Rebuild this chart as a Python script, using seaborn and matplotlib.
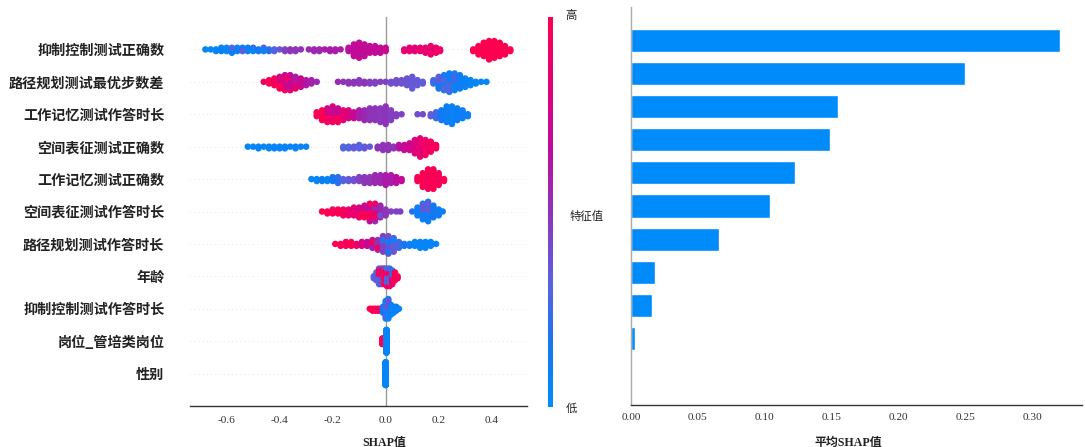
import numpy as np
import pandas as pd
import matplotlib
matplotlib.use("Agg")
import matplotlib.pyplot as plt
import seaborn as sns
from matplotlib.colors import LinearSegmentedColormap, Normalize
from matplotlib.cm import ScalarMappable

# ---------------- data ----------------
features = ["抑制控制测试正确数", "路径规划测试最优步数差", "工作记忆测试作答时长",
            "空间表征测试正确数", "工作记忆测试正确数", "空间表征测试作答时长",
            "路径规划测试作答时长", "年龄", "抑制控制测试作答时长",
            "岗位_管培类岗位", "性别"]

mean_abs_shap = [0.321, 0.250, 0.155, 0.149, 0.123, 0.104, 0.066, 0.018, 0.016, 0.003, 0.0]

x_ticks_left = [-0.6, -0.4, -0.2, 0.0, 0.2, 0.4]
x_ticks_right = [0.00, 0.05, 0.10, 0.15, 0.20, 0.25, 0.30]

# beeswarm points: (SHAP value, number of points, feature level 0=low..1=high)
swarm_ikz_correct = [
    (-0.68, 1, 0.05), (-0.66, 1, 0.05), (-0.64, 2, 0.05), (-0.62, 3, 0.08), (-0.60, 3, 0.05),
    (-0.58, 3, 0.10), (-0.58, 1, 0.30), (-0.56, 3, 0.08), (-0.54, 2, 0.12), (-0.54, 1, 0.35),
    (-0.52, 3, 0.10), (-0.50, 2, 0.20), (-0.50, 1, 0.05), (-0.48, 2, 0.15), (-0.46, 2, 0.25),
    (-0.46, 1, 0.05), (-0.44, 2, 0.20), (-0.42, 2, 0.30), (-0.40, 1, 0.35),
    (-0.38, 2, 0.45), (-0.36, 2, 0.50), (-0.34, 2, 0.50), (-0.32, 1, 0.50),
    (-0.29, 1, 0.55), (-0.27, 2, 0.55), (-0.25, 2, 0.55), (-0.23, 1, 0.60), (-0.21, 2, 0.60),
    (-0.19, 2, 0.60), (-0.17, 1, 0.60),
    (-0.14, 3, 0.65), (-0.12, 8, 0.68), (-0.10, 10, 0.70), (-0.08, 8, 0.68), (-0.06, 5, 0.70),
    (-0.04, 5, 0.68), (-0.02, 4, 0.70), (0.00, 3, 0.72),
    (0.07, 2, 0.85), (0.09, 3, 0.85), (0.11, 3, 0.82), (0.13, 3, 0.88), (0.15, 4, 0.85),
    (0.17, 6, 0.88), (0.19, 4, 0.90), (0.205, 2, 0.90),
    (0.33, 2, 1.0), (0.35, 6, 1.0), (0.37, 9, 1.0), (0.39, 12, 1.0), (0.41, 11, 1.0),
    (0.43, 9, 1.0), (0.45, 6, 1.0), (0.47, 2, 1.0),
]
swarm_path_steps = [
    (-0.46, 1, 0.90), (-0.44, 3, 1.0), (-0.42, 5, 0.95), (-0.40, 6, 1.0), (-0.40, 2, 0.75),
    (-0.38, 7, 0.95), (-0.38, 3, 0.75), (-0.36, 7, 0.90), (-0.36, 3, 0.70), (-0.34, 6, 0.85),
    (-0.34, 2, 0.60), (-0.32, 6, 0.72), (-0.30, 4, 0.62), (-0.28, 3, 0.58), (-0.26, 1, 0.55),
    (-0.18, 1, 0.55), (-0.16, 1, 0.50), (-0.14, 2, 0.50), (-0.12, 2, 0.50), (-0.10, 3, 0.48),
    (-0.08, 2, 0.50), (-0.06, 2, 0.45), (-0.04, 2, 0.45), (-0.02, 1, 0.45), (0.00, 1, 0.45),
    (0.02, 2, 0.40), (0.04, 3, 0.40), (0.06, 3, 0.38), (0.08, 5, 0.38), (0.10, 8, 0.35),
    (0.12, 4, 0.35), (0.14, 2, 0.35),
    (0.18, 3, 0.25), (0.20, 6, 0.15), (0.20, 2, 0.35), (0.22, 8, 0.10), (0.22, 2, 0.30),
    (0.24, 10, 0.10), (0.24, 2, 0.30), (0.26, 9, 0.08), (0.26, 2, 0.25), (0.28, 9, 0.10),
    (0.30, 6, 0.08), (0.32, 4, 0.05), (0.34, 2, 0.05), (0.36, 1, 0.05), (0.38, 1, 0.05),
]
swarm_wm_time = [
    (-0.26, 3, 0.95), (-0.24, 6, 1.0), (-0.22, 6, 0.95), (-0.22, 2, 0.75), (-0.20, 7, 0.90),
    (-0.20, 2, 0.70), (-0.18, 6, 0.95), (-0.18, 2, 0.70), (-0.16, 6, 0.85), (-0.14, 5, 0.80),
    (-0.12, 4, 0.70), (-0.10, 5, 0.60), (-0.08, 6, 0.55), (-0.06, 7, 0.50), (-0.04, 7, 0.50),
    (-0.02, 8, 0.48), (0.00, 10, 0.50), (0.02, 6, 0.45), (0.04, 2, 0.45), (0.06, 1, 0.45),
    (0.12, 1, 0.40), (0.14, 1, 0.40),
    (0.17, 2, 0.35), (0.19, 4, 0.25), (0.21, 6, 0.15), (0.23, 9, 0.10), (0.25, 10, 0.08),
    (0.27, 7, 0.10), (0.29, 5, 0.10), (0.31, 2, 0.10),
]
swarm_spatial_correct = [
    (-0.52, 1, 0.05), (-0.50, 1, 0.05), (-0.48, 2, 0.05), (-0.46, 1, 0.05), (-0.44, 2, 0.05),
    (-0.42, 2, 0.05), (-0.40, 2, 0.05), (-0.38, 2, 0.05), (-0.36, 1, 0.05), (-0.34, 2, 0.05),
    (-0.32, 1, 0.05), (-0.30, 1, 0.05),
    (-0.16, 2, 0.30), (-0.14, 2, 0.30), (-0.12, 2, 0.35), (-0.10, 3, 0.30), (-0.08, 2, 0.35),
    (-0.06, 1, 0.35),
    (-0.03, 2, 0.50), (-0.01, 4, 0.50), (0.01, 4, 0.50), (0.03, 2, 0.50),
    (0.05, 3, 0.65), (0.07, 4, 0.70), (0.09, 5, 0.75), (0.11, 9, 0.80), (0.13, 12, 0.85),
    (0.15, 10, 0.92), (0.17, 7, 0.95), (0.19, 3, 0.95),
]
swarm_wm_correct = [
    (-0.28, 1, 0.05), (-0.26, 2, 0.05), (-0.24, 2, 0.10), (-0.22, 2, 0.05), (-0.20, 3, 0.15),
    (-0.18, 4, 0.20), (-0.16, 2, 0.30), (-0.14, 2, 0.35), (-0.12, 2, 0.40), (-0.10, 3, 0.45),
    (-0.08, 4, 0.50), (-0.06, 4, 0.50), (-0.04, 5, 0.55), (-0.02, 5, 0.55), (0.00, 6, 0.60),
    (0.02, 5, 0.60), (0.04, 4, 0.65), (0.06, 2, 0.70),
    (0.12, 3, 0.95), (0.14, 8, 1.0), (0.16, 11, 0.95), (0.18, 11, 1.0), (0.20, 7, 0.95),
    (0.22, 2, 1.0),
]
swarm_spatial_time = [
    (-0.24, 1, 1.0), (-0.22, 2, 1.0), (-0.20, 3, 0.95), (-0.18, 3, 1.0), (-0.16, 4, 0.95),
    (-0.14, 4, 0.90), (-0.12, 5, 0.85), (-0.10, 5, 0.80), (-0.10, 1, 1.0), (-0.08, 5, 0.70),
    (-0.08, 2, 1.0), (-0.06, 7, 0.65), (-0.06, 3, 0.95), (-0.04, 7, 0.55), (-0.04, 3, 0.90),
    (-0.02, 6, 0.55), (-0.02, 1, 0.40), (0.00, 4, 0.50), (0.02, 1, 0.45), (0.04, 1, 0.45),
    (0.055, 1, 0.45),
    (0.10, 1, 0.20), (0.12, 5, 0.10), (0.14, 7, 0.10), (0.14, 2, 0.35), (0.16, 9, 0.10),
    (0.16, 2, 0.35), (0.18, 7, 0.15), (0.20, 4, 0.10), (0.215, 1, 0.10),
]
swarm_path_time = [
    (-0.19, 1, 1.0), (-0.17, 2, 1.0), (-0.15, 3, 0.95), (-0.13, 3, 1.0), (-0.11, 2, 0.90),
    (-0.09, 3, 0.80), (-0.07, 3, 0.70), (-0.05, 4, 0.60), (-0.05, 1, 0.95), (-0.03, 5, 0.50),
    (-0.03, 1, 0.90), (-0.01, 8, 0.45), (-0.01, 1, 0.20), (0.01, 8, 0.40), (0.01, 2, 0.15),
    (0.03, 7, 0.35), (0.03, 1, 0.10), (0.05, 4, 0.25), (0.07, 2, 0.15), (0.09, 2, 0.10),
    (0.11, 3, 0.05), (0.13, 4, 0.05), (0.15, 4, 0.05), (0.17, 3, 0.05), (0.19, 1, 0.05),
]
swarm_age = [
    (-0.045, 2, 0.30), (-0.035, 5, 0.35), (-0.025, 7, 0.30), (-0.025, 2, 0.95), (-0.015, 7, 0.40),
    (-0.015, 2, 1.0), (-0.005, 6, 0.45), (-0.005, 3, 1.0), (0.005, 7, 0.90), (0.005, 3, 0.30),
    (0.015, 7, 0.95), (0.015, 3, 0.25), (0.025, 6, 0.90), (0.025, 2, 0.20), (0.035, 5, 1.0),
    (0.045, 2, 0.95),
]
swarm_ikz_time = [
    (-0.06, 1, 1.0), (-0.05, 2, 1.0), (-0.04, 2, 1.0), (-0.03, 2, 0.95), (-0.02, 2, 0.90),
    (-0.01, 4, 0.15), (0.00, 8, 0.10), (0.00, 2, 0.35), (0.01, 9, 0.05), (0.01, 2, 0.40),
    (0.02, 6, 0.10), (0.03, 4, 0.05), (0.04, 3, 0.10), (0.05, 1, 0.05),
]
swarm_post = [(-0.012, 30, 1.0), (0.003, 120, 0.05)]
swarm_gender = [(0.0, 150, 0.05)]

swarm_rows = [swarm_ikz_correct, swarm_path_steps, swarm_wm_time, swarm_spatial_correct,
              swarm_wm_correct, swarm_spatial_time, swarm_path_time, swarm_age,
              swarm_ikz_time, swarm_post, swarm_gender]

# ---------------- style ----------------
sns.set_style("white")
plt.rcParams["font.family"] = ["Liberation Serif", "Noto Sans CJK SC"]
plt.rcParams["axes.unicode_minus"] = False

shap_red_blue = LinearSegmentedColormap.from_list(
    "shap_red_blue",
    [(0.00, (0.00, 0.545, 0.984)),
     (0.15, (0.08, 0.47, 0.95)),
     (0.32, (0.36, 0.38, 0.87)),
     (0.50, (0.56, 0.20, 0.72)),
     (0.66, (0.73, 0.05, 0.62)),
     (0.82, (0.88, 0.00, 0.48)),
     (1.00, (1.00, 0.00, 0.318))])


def beeswarm_offsets(values, fracs, row_height=0.4, nbins=100):
    values = np.asarray(values, float)
    fracs = np.asarray(fracs, float)
    lo, hi = values.min(), values.max()
    quant = np.round(nbins * (values - lo) / (hi - lo + 1e-8))
    order = np.lexsort((fracs, quant))
    ys = np.zeros(len(values))
    layer, last = 0, None
    for ind in order:
        if quant[ind] != last:
            layer = 0
        ys[ind] = np.ceil(layer / 2) * ((layer % 2) * 2 - 1)
        layer += 1
        last = quant[ind]
    ys *= 0.9 * (row_height / np.max(ys + 1))
    return ys


records = []
for i, entries in enumerate(swarm_rows):
    vals, lv, fr = [], [], []
    for v, n, c in entries:
        for j in range(n):
            vals.append(v)
            lv.append(c)
            fr.append((j + 0.5) / n)
    offs = beeswarm_offsets(vals, fr)
    for v, c, o in zip(vals, lv, offs):
        records.append({"shap": v, "row": i + o, "level": c})
df_swarm = pd.DataFrame(records)

df_bar = pd.DataFrame({"feature": features, "value": mean_abs_shap})

# ---------------- figure ----------------
W, H = 1085, 447
fig = plt.figure(figsize=(W / 100, H / 100), dpi=100)


def frac_box(x0, y0, x1, y1):
    return [x0 / W, 1 - y1 / H, (x1 - x0) / W, (y1 - y0) / H]


ax1 = fig.add_axes(frac_box(190, 17, 527, 406))
cax = fig.add_axes(frac_box(548.3, 17.3, 552.7, 406.7))
ax2 = fig.add_axes(frac_box(631, 7, 1082, 405))

# ---- left: beeswarm ----
nrow = len(features)
for i in range(nrow):
    ax1.axhline(i, color="#cccccc", lw=0.5, dashes=(1, 5), zorder=-1)
ax1.axvline(0, color="#999999", lw=1, zorder=-1)
sns.scatterplot(data=df_swarm, x="shap", y="row", hue="level", palette=shap_red_blue,
                hue_norm=(0, 1), s=22, linewidth=0, alpha=1, legend=False, ax=ax1)
ax1.set_ylim(nrow, -1)
ax1.set_xlim(-0.738, 0.533)
ax1.set_yticks(range(nrow))
ax1.set_yticklabels(features, fontsize=10.2, fontweight="bold",
                    family=["Noto Sans CJK SC"], color="#222222")
ax1.tick_params(axis="y", length=0, pad=18.5)
ax1.set_xticks(x_ticks_left)
ax1.set_xticklabels([f"{t:.1f}" for t in x_ticks_left], fontsize=8.2, color="#333333")
ax1.tick_params(axis="x", length=0, pad=7)
ax1.set_ylabel("")
ax1.set_xlabel("SHAP值", fontsize=8.6, fontweight="bold", color="#222222")
ax1.xaxis.set_label_coords((384 - 190) / 337, -(437 - 406) / 389)
for s in ["top", "right", "left"]:
    ax1.spines[s].set_visible(False)
ax1.spines["bottom"].set_color("#333333")
ax1.spines["bottom"].set_linewidth(1.0)

# ---- colorbar ----
sm = ScalarMappable(norm=Normalize(0, 1), cmap=shap_red_blue)
cb = fig.colorbar(sm, cax=cax)
cb.outline.set_visible(False)
cb.set_ticks([])
fig.text(571.5 / W, 1 - 15 / H, "高", ha="center", va="center", fontsize=8.2,
         family=["Noto Sans CJK SC"], color="#222222")
fig.text(571.5 / W, 1 - 409 / H, "低", ha="center", va="center", fontsize=8.2,
         family=["Noto Sans CJK SC"], color="#222222")
fig.text(570 / W, 1 - 216 / H, "特征值", ha="left", va="center", fontsize=8.2,
         family=["Noto Sans CJK SC"], color="#222222")

# ---- right: mean |SHAP| bars ----
sns.barplot(data=df_bar, x="value", y="feature", orient="h", color="#008bfb",
            saturation=1, width=0.7, ax=ax2)
ax2.set_ylim(nrow, -1)
ax2.set_xlim(0, 0.3374)
ax2.set_yticks(range(nrow))
ax2.set_yticklabels([""] * nrow)
ax2.tick_params(axis="y", length=0)
ax2.set_xticks(x_ticks_right)
ax2.set_xticklabels([f"{t:.2f}" for t in x_ticks_right], fontsize=8.2, color="#333333")
ax2.tick_params(axis="x", length=3, width=0.8, color="#333333", pad=3)
ax2.set_ylabel("")
ax2.set_xlabel("平均SHAP值", fontsize=8.6, fontweight="bold", color="#222222")
ax2.xaxis.set_label_coords((848 - 631) / 451, -(437 - 405) / 398)
for s in ["top", "right"]:
    ax2.spines[s].set_visible(False)
ax2.spines["left"].set_color("#aaaaaa")
ax2.spines["left"].set_linewidth(1.0)
ax2.spines["bottom"].set_color("#333333")
ax2.spines["bottom"].set_linewidth(1.0)

fig.savefig("out.png", dpi=100)
